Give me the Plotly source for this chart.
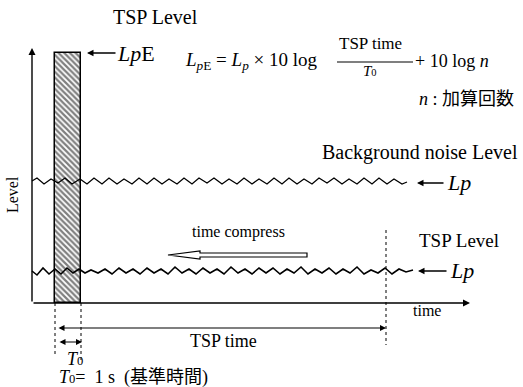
import plotly.graph_objects as go

# Diagram units: x = time (px-like units from origin), y = level
BG_X = [0, 5, 12, 19, 26, 33, 40, 48, 55, 62,
        70, 77, 85, 92, 100, 107, 115, 122, 130, 137,
        145, 152, 160, 167, 175, 182, 190, 197, 205, 212,
        220, 227, 235, 242, 250, 257, 265, 272, 280, 287,
        295, 302, 310, 317, 325, 332, 340, 347, 355, 362,
        370, 375]
BG_Y = [122, 125, 119, 124, 120, 125, 119, 124, 119, 125,
        119, 125, 119, 124, 119, 125, 119, 125, 119, 124,
        119, 125, 119, 125, 120, 125, 119, 124, 119, 125,
        119, 124, 119, 125, 119, 125, 119, 124, 119, 125,
        120, 125, 119, 124, 119, 125, 119, 125, 119, 124,
        119, 121]
TSP_X = [0, 5, 11, 17, 23, 29, 35, 41, 47, 53,
         59, 66, 73, 80, 87, 94, 101, 108, 115, 122,
         129, 136, 143, 150, 157, 164, 171, 178, 185, 192,
         199, 206, 213, 220, 227, 234, 241, 248, 255, 262,
         269, 276, 283, 290, 297, 304, 311, 318, 325, 332,
         339, 346, 353, 360, 367, 374, 381]
TSP_Y = [32, 28, 35, 29, 34, 29, 35, 30, 34, 30,
         33, 30, 34, 29, 35, 30, 34, 29, 35, 30,
         34, 29, 36, 30, 34, 29, 35, 30, 34, 29,
         36, 30, 34, 29, 35, 30, 35, 29, 34, 30,
         36, 29, 34, 30, 35, 29, 34, 30, 36, 29,
         33, 30, 35, 29, 34, 31, 33]
T0_START = 23
T0_WIDTH = 26
LPE_LEVEL = 250
TSP_END = 354

SERIF = "Liberation Serif, Noto Sans CJK JP"
T0_TXT = "<i>T</i><span style='font-size:70%'>0</span>"

fig = go.Figure()

fig.add_trace(go.Bar(
    x=[T0_START + T0_WIDTH / 2], y=[LPE_LEVEL], width=[T0_WIDTH], base=0,
    marker=dict(color="white", line=dict(color="black", width=1.5),
                pattern=dict(shape="\\", size=4, solidity=0.55,
                             fgcolor="black", bgcolor="white")),
    showlegend=False, hoverinfo="skip"))

fig.add_trace(go.Scatter(x=BG_X, y=BG_Y, mode="lines",
                         line=dict(color="black", width=1.3), showlegend=False))
fig.add_trace(go.Scatter(x=TSP_X, y=TSP_Y, mode="lines",
                         line=dict(color="black", width=1.6), showlegend=False))

shapes = []
# dotted verticals
for x0, y0, y1 in [(T0_START, 0, -54), (T0_START + T0_WIDTH, 0, -60), (TSP_END, 73, -42)]:
    shapes.append(dict(type="line", xref="x", yref="y", x0=x0, x1=x0, y0=y0, y1=y1,
                       line=dict(color="black", width=1, dash="dot")))
# fraction line
shapes.append(dict(type="line", xref="x", yref="y", x0=305, x1=381, y0=241, y1=241,
                   line=dict(color="black", width=1.2)))
# hollow "time compress" arrow
shapes.append(dict(type="path", xref="x", yref="y",
                   path="M 275,46 L 168,46 L 168,44 L 136,48 L 168,52 L 168,50 L 275,50 Z",
                   fillcolor="white", line=dict(color="black", width=1.2)))

ann = []
def arrow(x, y, ax, ay, side="end", width=1.3):
    ann.append(dict(x=x, y=y, ax=ax, ay=ay, xref="x", yref="y", axref="x", ayref="y",
                    text="", showarrow=True, arrowhead=2, arrowsize=1, arrowwidth=width,
                    arrowcolor="black", arrowside=side, standoff=0, startstandoff=0))

def text(x, y, s, size, xanchor="center", angle=0):
    ann.append(dict(x=x, y=y, xref="x", yref="y", text=s, showarrow=False,
                    xanchor=xanchor, yanchor="middle", textangle=angle,
                    font=dict(family=SERIF, size=size, color="black")))

# axes
arrow(0, 255, 0, 0, width=1.4)
arrow(438, 0, 0, 0, width=1.4)
# TSP time and T0 arrows
arrow(TSP_END, -25, T0_START + 2, -25, side="end+start", width=1.2)
arrow(T0_START + T0_WIDTH + 1, -39, T0_START + 3, -39, side="end+start", width=1.2)
# level pointers
arrow(55, 250, 85, 250)
arrow(385, 120, 413, 120)
arrow(386, 32, 416, 32)

text(123, 286, "TSP Level", 20)
text(83, 250, "<i>Lp</i>E", 22, xanchor="left")
text(151, 242, "<i>L</i><sub><i>p</i>E</sub> = <i>L</i><sub><i>p</i></sub> × 10 log", 19, xanchor="left")
text(338, 260, "TSP time", 17)
text(338, 232, T0_TXT, 15)
text(381, 242, "+ 10 log <i>n</i>", 18, xanchor="left")
text(385, 204, "<i>n</i> : 加算回数", 18, xanchor="left")
text(288, 151, "Background noise Level", 20, xanchor="left")
text(413, 121, "<i>Lp</i>", 22, xanchor="left")
text(385, 63, "TSP Level", 19, xanchor="left")
text(416, 33, "<i>Lp</i>", 22, xanchor="left")
text(206, 71, "time compress", 16)
text(-20, 108, "Level", 16, angle=-90)
text(395, -7, "time", 16)
text(191, -38, "TSP time", 18)
text(43, -56, T0_TXT, 18)
text(25, -74, T0_TXT + "=  1 s  (基準時間)", 18, xanchor="left")

fig.update_layout(
    width=523, height=387, margin=dict(l=0, r=0, t=0, b=0),
    paper_bgcolor="white", plot_bgcolor="white",
    xaxis=dict(range=[-32, 491], visible=False, fixedrange=True),
    yaxis=dict(range=[-84, 303], visible=False, fixedrange=True),
    shapes=shapes, annotations=ann, bargap=0, showlegend=False)

fig.write_html("out.html", config={"displayModeBar": False},
               post_script="document.body.style.margin='0';document.body.style.overflow='hidden';")
